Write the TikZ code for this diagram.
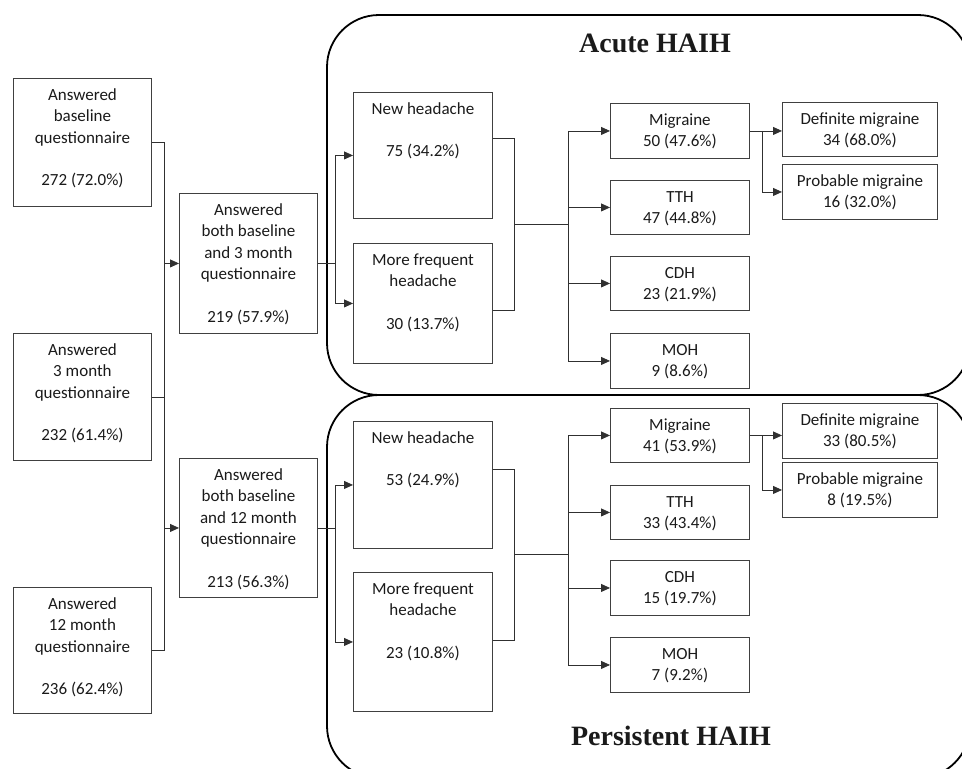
\documentclass[tikz,border=0pt]{standalone}
\usepackage{fontspec}
\setmainfont{Carlito}
\newfontfamily\titlefont{Liberation Serif}
\usetikzlibrary{arrows.meta,calc}
\definecolor{boxgray}{HTML}{404040}
\definecolor{linegray}{HTML}{303030}
\definecolor{txtgray}{HTML}{1A1A1A}
\newcommand{\boxtext}[3]{\parbox[t][#2][t]{#1}{\fontsize{17}{21.5}\selectfont\centering\rule{0pt}{22pt}#3}}
\tikzset{
  bx/.style={draw=boxgray, line width=0.9pt, inner sep=0pt, anchor=north west, text=txtgray},
  ln/.style={draw=linegray, line width=0.8pt},
  arr/.style={draw=linegray, line width=0.8pt, -{Triangle[length=9pt,width=8pt]}},
  frame/.style={draw=black, line width=1.8pt, rounded corners=52pt},
  ttl/.style={font=\titlefont\bfseries\fontsize{28}{32}\selectfont, text=txtgray, anchor=base}
}
\begin{document}
\begin{tikzpicture}[x=1pt,y=-1pt]
  \useasboundingbox (0,0) rectangle (962,769);
  \begin{scope}
    \clip (0,0) rectangle (962,769);
    \draw[frame] (327,15) rectangle (970,395);
    \draw[frame] (327,395) rectangle (970,778);
  \end{scope}
  \node[ttl] (acute) at (655,52) {Acute HAIH};
  \node[ttl] (persist) at (671,745) {Persistent HAIH};

  \node[bx] (base) at (13,78) {\boxtext{138pt}{128pt}{Answered\\baseline\\questionnaire\\[21pt]272 (72.0\%)}};
  \node[bx] (three) at (13,333) {\boxtext{138pt}{127pt}{Answered\\3 month\\questionnaire\\[21pt]232 (61.4\%)}};
  \node[bx] (twelve) at (13,587) {\boxtext{138pt}{126pt}{Answered\\12 month\\questionnaire\\[21pt]236 (62.4\%)}};
  \node[bx] (both3) at (179,193) {\boxtext{138pt}{140pt}{Answered\\both baseline\\and 3 month\\questionnaire\\[21pt]219 (57.9\%)}};
  \node[bx] (both12) at (179,458) {\boxtext{138pt}{139pt}{Answered\\both baseline\\and 12 month\\questionnaire\\[21pt]213 (56.3\%)}};

  \node[bx] (new3) at (353,92) {\boxtext{139pt}{126pt}{New headache\\[21pt]75 (34.2\%)}};
  \node[bx] (freq3) at (353,243) {\boxtext{139pt}{120pt}{More frequent\\headache\\[21pt]30 (13.7\%)}};
  \node[bx] (new12) at (353,421) {\boxtext{139pt}{127pt}{New headache\\[21pt]53 (24.9\%)}};
  \node[bx] (freq12) at (353,572) {\boxtext{139pt}{139pt}{More frequent\\headache\\[21pt]23 (10.8\%)}};

  \node[bx] (mig3) at (610,103) {\boxtext{139pt}{55pt}{Migraine\\50 (47.6\%)}};
  \node[bx] (tth3) at (610,180) {\boxtext{139pt}{54pt}{TTH\\47 (44.8\%)}};
  \node[bx] (cdh3) at (610,256) {\boxtext{139pt}{54pt}{CDH\\23 (21.9\%)}};
  \node[bx] (moh3) at (610,333) {\boxtext{139pt}{55pt}{MOH\\9 (8.6\%)}};
  \node[bx] (mig12) at (610,408) {\boxtext{139pt}{54pt}{Migraine\\41 (53.9\%)}};
  \node[bx] (tth12) at (610,485) {\boxtext{139pt}{54pt}{TTH\\33 (43.4\%)}};
  \node[bx] (cdh12) at (610,560) {\boxtext{139pt}{55pt}{CDH\\15 (19.7\%)}};
  \node[bx] (moh12) at (610,637) {\boxtext{139pt}{55pt}{MOH\\7 (9.2\%)}};

  \node[bx] (def3) at (782,102) {\boxtext{155pt}{54pt}{Definite migraine\\34 (68.0\%)}};
  \node[bx] (prob3) at (782,164) {\boxtext{155pt}{55pt}{Probable migraine\\16 (32.0\%)}};
  \node[bx] (def12) at (782,403) {\boxtext{155pt}{55pt}{Definite migraine\\33 (80.5\%)}};
  \node[bx] (prob12) at (782,462) {\boxtext{155pt}{55pt}{Probable migraine\\8 (19.5\%)}};

  \coordinate (sp0) at (164,0);
  \coordinate (sp1) at (335,0);
  \coordinate (sp2) at (514,0);
  \coordinate (sp3) at (568,0);
  \coordinate (sp4) at (762,0);

  \draw[ln] (base.east) -| (sp0 |- twelve.east) -- (twelve.east);
  \draw[ln] (three.east) -- (sp0 |- three.east);
  \draw[arr] (sp0 |- both3.west) -- (both3.west);
  \draw[arr] (sp0 |- both12.west) -- (both12.west);

  \draw[ln] (both3.east) -- (sp1 |- both3.east);
  \draw[arr] (sp1 |- both3.east) |- (new3.west);
  \draw[arr] (sp1 |- both3.east) |- (freq3.west);
  \draw[ln] (both12.east) -- (sp1 |- both12.east);
  \draw[arr] (sp1 |- both12.east) |- (new12.west);
  \draw[arr] (sp1 |- both12.east) |- (freq12.west);

  \coordinate (n3o) at ([yshift=17pt]new3.east);
  \coordinate (f3o) at ([yshift=-7pt]freq3.east);
  \coordinate (m3) at ($(n3o)!0.5!(f3o)$);
  \draw[ln] (n3o) -| (sp2 |- f3o) -- (f3o);
  \draw[ln] (sp2 |- m3) -- (sp3 |- m3);
  \draw[ln] (sp3 |- mig3.west) -- (sp3 |- moh3.west);
  \draw[arr] (sp3 |- mig3.west) -- (mig3.west);
  \draw[arr] (sp3 |- tth3.west) -- (tth3.west);
  \draw[arr] (sp3 |- cdh3.west) -- (cdh3.west);
  \draw[arr] (sp3 |- moh3.west) -- (moh3.west);

  \coordinate (n12o) at ([yshift=16pt]new12.east);
  \coordinate (f12o) at ([yshift=2pt]freq12.east);
  \coordinate (m12) at ($(n12o)!0.5!(f12o)$);
  \draw[ln] (n12o) -| (sp2 |- f12o) -- (f12o);
  \draw[ln] (sp2 |- m12) -- (sp3 |- m12);
  \draw[ln] (sp3 |- mig12.west) -- (sp3 |- moh12.west);
  \draw[arr] (sp3 |- mig12.west) -- (mig12.west);
  \draw[arr] (sp3 |- tth12.west) -- (tth12.west);
  \draw[arr] (sp3 |- cdh12.west) -- (cdh12.west);
  \draw[arr] (sp3 |- moh12.west) -- (moh12.west);

  \draw[arr] (mig3.east) -- (mig3.east -| def3.west);
  \draw[arr] (sp4 |- mig3.east) |- (prob3.west);
  \draw[arr] (mig12.east) -- (mig12.east -| def12.west);
  \draw[arr] (sp4 |- mig12.east) |- (prob12.west);
\end{tikzpicture}
\end{document}
